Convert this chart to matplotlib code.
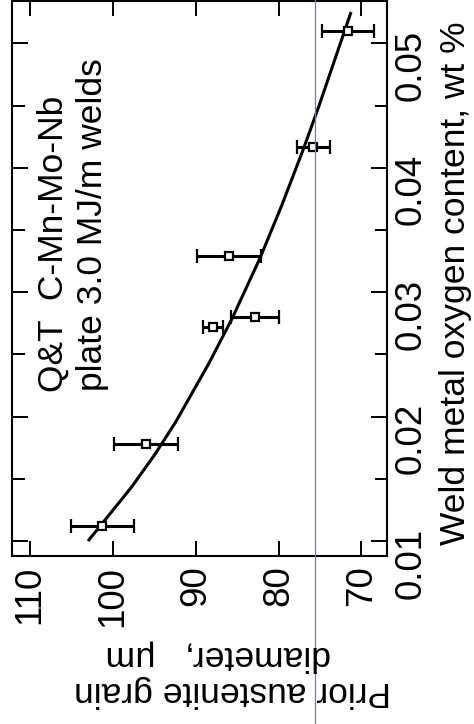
import matplotlib
matplotlib.use("Agg")
import matplotlib.pyplot as plt
from matplotlib.lines import Line2D

plt.rcParams['font.family'] = ['Liberation Sans', 'DejaVu Sans']

# measured points: grain diameter (um) vs weld metal oxygen (wt %)
oxygen = [0.0112, 0.0178, 0.0280, 0.0272, 0.0329, 0.0417, 0.0510]
diameter = [101.3, 96.0, 82.9, 87.9, 86.0, 75.8, 71.6]
diameter_err = [3.8, 3.9, 2.9, 1.2, 3.9, 2.0, 3.1]

# fitted trend line
curve_oxygen = [0.0101, 0.0143, 0.0170, 0.0196, 0.0243, 0.0279,
                0.0328, 0.0370, 0.0415, 0.0450, 0.0488, 0.0524]
curve_diameter = [102.9, 97.8, 94.9, 92.4, 88.4, 85.6,
                  82.2, 79.6, 77.0, 75.1, 73.15, 71.3]

diam_ticks = [110, 100, 90, 80, 70]
diam_labels = ["110", "100", "90", "80", "70"]
oxy_ticks = [0.01, 0.02, 0.03, 0.04, 0.05]
oxy_labels = ["0.01", "0.02", "0.03", "0.04", "0.05"]
oxy_minor = [0.015, 0.025, 0.035, 0.045]

W, H = 474, 724


def fx(x):
    return x / W


def fy(y):
    return 1 - y / H


fig = plt.figure(figsize=(W / 100, H / 100), dpi=100)
# the page is turned a quarter turn: diameter runs across, oxygen runs up
ax = fig.add_axes([fx(12), fy(556), fx(387) - fx(12), fy(1) - fy(556)])

ax.plot(curve_diameter, curve_oxygen, color='black', lw=2.2, zorder=2)
ax.errorbar(diameter, oxygen, xerr=diameter_err, fmt='s', mfc='white',
            mec='black', ms=5.5, mew=1.6, ecolor='black', elinewidth=2.2,
            capsize=5, capthick=2.2, zorder=3)

ax.set_xlim(112.2, 66.9)
ax.set_ylim(0.0088, 0.0534)

ax.set_xticks(diam_ticks)
ax.set_xticklabels(diam_labels)
ax.set_yticks(oxy_ticks)
ax.set_yticklabels(oxy_labels)
ax.set_yticks(oxy_minor, minor=True)
ax.xaxis.set_minor_locator(plt.NullLocator())

ax.tick_params(axis='x', which='major', direction='in', top=True, bottom=True,
               length=11, width=1.4, labelsize=26.5, labelrotation=90, pad=7)
ax.tick_params(axis='y', which='major', direction='in', left=True, right=True,
               labelleft=False, labelright=True, length=11.5, width=1.4,
               labelsize=26.5, labelrotation=90, pad=5)
ax.tick_params(axis='y', which='minor', direction='in', left=True, right=True,
               length=9, width=1.4)
for s in ax.spines.values():
    s.set_linewidth(1.5)

fs = 25.5
fig.text(fx(63), fy(392), "Q&T  C-Mn-Mo-Nb", rotation=90, rotation_mode='anchor',
         ha='left', va='baseline', fontsize=fs)
fig.text(fx(102), fy(391), "plate 3.0 MJ/m welds", rotation=90,
         rotation_mode='anchor', ha='left', va='baseline', fontsize=fs)

fig.text(fx(465), fy(545), "Weld metal oxygen content, wt %", rotation=90,
         rotation_mode='anchor', ha='left', va='baseline', fontsize=fs)

fig.text(fx(233), fy(682), "Prior austenite grain", rotation=180,
         rotation_mode='anchor', ha='center', va='baseline', fontsize=fs)
fig.text(fx(218), fy(647), "diameter,   \u03bcm", rotation=180,
         rotation_mode='anchor', ha='center', va='baseline', fontsize=fs)

# thin scanner line running down the page
fig.add_artist(Line2D([fx(315), fx(315)], [0, 1], transform=fig.transFigure,
                      color='#7878bc', lw=0.9))

fig.savefig("out.png", dpi=100)
